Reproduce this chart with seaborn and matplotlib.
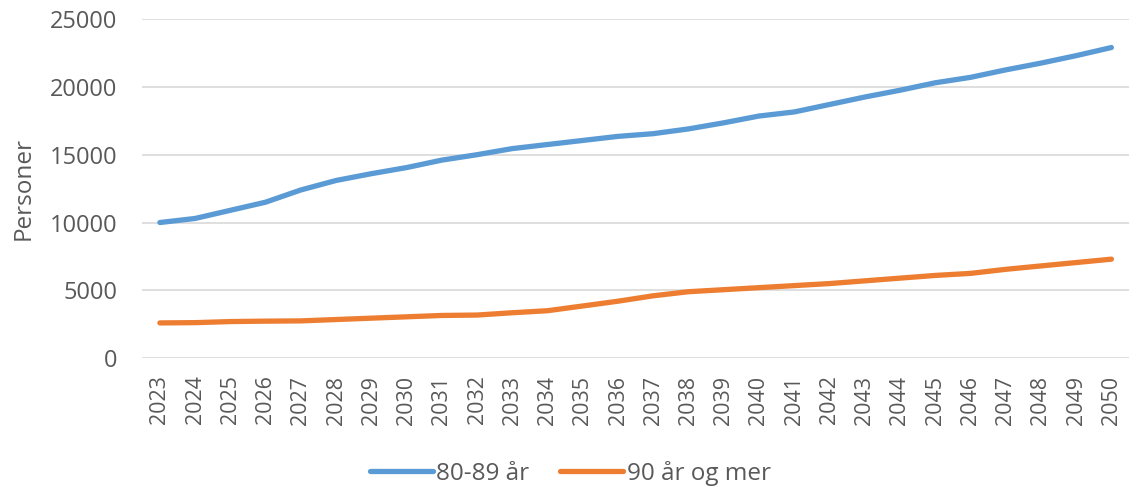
import pandas as pd
import matplotlib.pyplot as plt
import seaborn as sns

# ====================================
# Data
# ====================================
years = list(range(2023, 2051))
age_80_89 = [10000, 10300, 10900, 11500, 12400, 13100, 13600, 14050, 14600, 15000,
             15450, 15750, 16050, 16350, 16550, 16900, 17350, 17850, 18150, 18700,
             19250, 19750, 20300, 20700, 21250, 21750, 22300, 22900]
age_90_plus = [2600, 2620, 2700, 2730, 2750, 2850, 2950, 3050, 3150, 3180,
               3350, 3500, 3850, 4200, 4600, 4900, 5050, 5200, 5350, 5500,
               5700, 5900, 6100, 6250, 6550, 6800, 7050, 7300]
series_names = ["80-89 år", "90 år og mer"]
colors = ["#5B9BD5", "#ED7D31"]

df = pd.DataFrame({
    "år": years * 2,
    "Personer": age_80_89 + age_90_plus,
    "gruppe": [series_names[0]] * len(years) + [series_names[1]] * len(years),
})

# ====================================
# Plot
# ====================================
sns.set_style("white")
plt.rcParams['font.family'] = ['Open Sans', 'DejaVu Sans']
text_color = "#595959"

fig = plt.figure(figsize=(11.29, 4.88), dpi=100)
ax = fig.add_axes([0.126, 0.266, 0.874, 0.695])

sns.lineplot(data=df, x="år", y="Personer", hue="gruppe", palette=colors,
             linewidth=3.8, ax=ax, legend=False, solid_capstyle="round")

ax.set_xlim(2022.5, 2050.5)
ax.set_ylim(0, 25000)
ax.set_yticks(range(0, 25001, 5000))
ax.set_xticks(years)
ax.set_xticklabels([str(y) for y in years], rotation=90, fontsize=15.5, color=text_color)
ax.tick_params(axis="y", labelsize=17, labelcolor=text_color, length=0, pad=18)
ax.tick_params(axis="x", length=0, pad=12.5)
ax.yaxis.grid(True, color="#D9D9D9", linewidth=1.2)
ax.set_axisbelow(True)
for s in ax.spines.values():
    s.set_visible(False)
ax.set_xlabel("")
ax.set_ylabel("Personer", fontsize=17.5, color=text_color, labelpad=10)

handles = [plt.Line2D([], [], color=c, linewidth=3.8, solid_capstyle="round") for c in colors]
fig.legend(handles, series_names, loc="center", bbox_to_anchor=(0.505, 0.03), ncol=2,
           frameon=False, fontsize=17.5, handlelength=2.6, handletextpad=0.15,
           columnspacing=1.25, labelcolor=text_color)

fig.savefig("out.png", dpi=100)
